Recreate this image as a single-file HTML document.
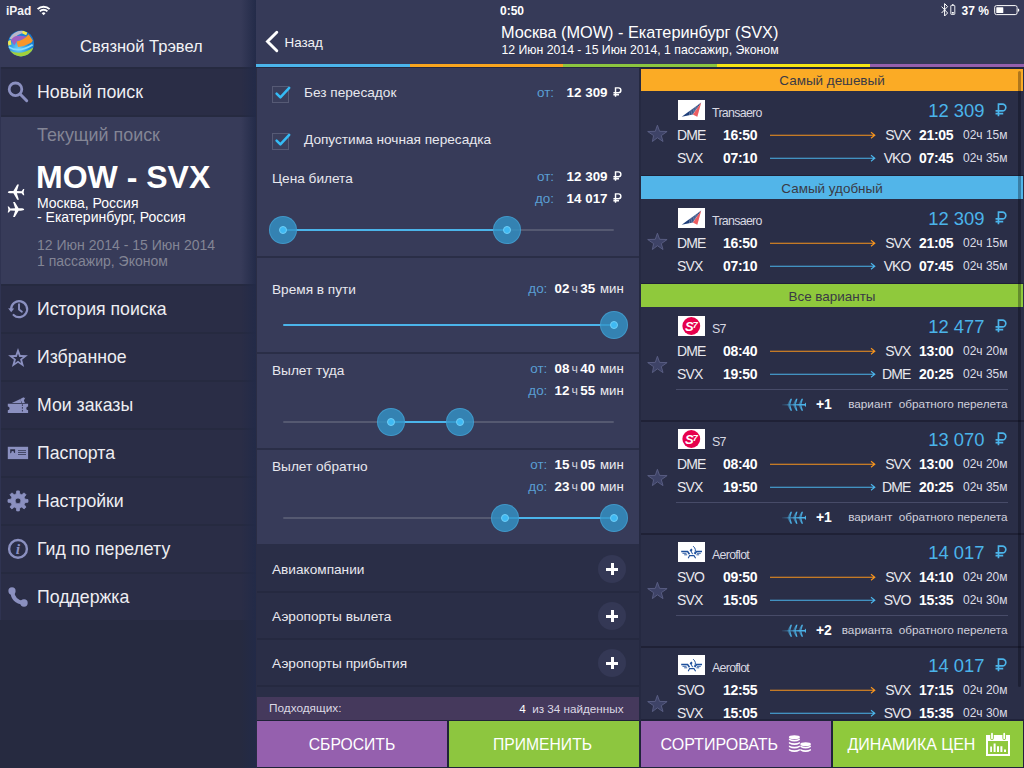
<!DOCTYPE html>
<html><head><meta charset="utf-8">
<style>
*{margin:0;padding:0;box-sizing:border-box}
html,body{width:1024px;height:768px;overflow:hidden;background:#363a58;font-family:"Liberation Sans",sans-serif;color:#fff}
.a{position:absolute}
.t{position:absolute;white-space:nowrap;line-height:20px;font-size:14px;color:#f2f2f5}
.b{font-weight:bold}
.r{text-align:right}
svg{position:absolute;overflow:visible}
/* sidebar */
#sb{left:0;top:0;width:256px;height:768px;background:#262a40;overflow:hidden}
#sb .row{position:absolute;left:0;width:256px;height:46px;background:#2a2d46}
#sb .m{font-size:17.7px;color:#eeeef2;left:37px}
/* mid */
#mid{left:256px;top:0;width:384px;height:768px;overflow:hidden;background:#2a2e47}
.sec{position:absolute;left:0;width:384px;background:#373b59}
.lbl{color:#e8e8ee;font-size:13.65px;margin-top:1px}
.ot{color:#5a9fd4;font-size:13.4px;margin-top:1px}
.val{font-weight:bold;font-size:13.4px;color:#fff;margin-top:1px}
.sm{font-size:12px;font-weight:normal;color:#e0e0e8}
.track{position:absolute;height:2px;background:#555971;border-radius:1px}
.act{position:absolute;height:2.4px;margin-top:.3px;background:#4bb4ea;border-radius:1px}
.th{position:absolute;width:28px;height:28px;border-radius:14px;background:rgba(51,146,198,.82);border:1px solid rgba(75,170,220,.55);margin:1px;z-index:3}
.th:after{content:"";position:absolute;left:8.8px;top:8.8px;width:6px;height:6px;border-radius:5px;background:#3fb9f3;border:1.2px solid #6fcdf6}
.plus{position:absolute;width:28px;height:28px;border-radius:14px;background:#343855}
.plus:before{content:"";position:absolute;left:8px;top:12.5px;width:12.4px;height:3px;background:#fff}
.plus:after{content:"";position:absolute;left:12.6px;top:7.8px;width:3px;height:12.4px;background:#fff}
.rub{position:static;display:inline-block;width:.65em;height:.72em;vertical-align:0;margin-left:2px}
.cb{position:absolute;width:17px;height:17px;border:1px solid #565a75;background:#3a3e5b}
.ch{font-weight:normal;font-size:12.4px;color:#d0d0dc;margin:0 2.4px 0 2px}
.mn{font-weight:normal;font-size:13.2px;color:#eeeef2;margin-left:4.8px}
.ot2{font-weight:normal;color:#5a9fd4;font-size:13.4px;margin-right:7.2px}
.al{font-size:12.4px;color:#d8d8e2;letter-spacing:-0.7px}
.pr{font-size:18.4px;color:#4bb4ea;line-height:24px}
.pr .rub{margin-left:5px;vertical-align:.6px}
.ap{font-size:14px;color:#e8e8ee;letter-spacing:-0.9px}
.tm{font-size:14px;font-weight:bold;color:#fff;letter-spacing:-0.3px}
.du{font-size:12px;color:#dcdce6}
.vr{font-size:11.75px;color:#d0d0dc}
/* right */
#rt{left:640px;top:0;width:384px;height:768px;overflow:hidden;background:#2a2e47}
.bar{position:absolute;left:1px;width:382px;height:24px;text-align:center;font-size:13.45px;line-height:24px;color:#3a3a45}
.card{position:absolute;left:0;width:384px}
.btn{position:absolute;top:721px;height:46px;font-size:16.6px;color:#fff;line-height:47px}
</style></head><body>
<!-- SIDEBAR -->
<div id="sb" class="a">
  <div class="a" style="left:0;top:0;width:256px;height:67px;background:#363a58"></div>
  <div class="row" style="top:68.5px;height:46.5px"></div>
  <div class="a" style="left:0;top:117px;width:256px;height:167px;background:#373b59"></div>
  <div class="a" style="left:0;top:67px;width:1px;height:553px;background:#2f3351;z-index:2"></div>
  <div class="row" style="top:286px"></div>
  <div class="row" style="top:334px"></div>
  <div class="row" style="top:382px"></div>
  <div class="row" style="top:430px"></div>
  <div class="row" style="top:478px"></div>
  <div class="row" style="top:526px"></div>
  <div class="row" style="top:574px"></div>

  <svg style="left:0;top:0" width="256" height="768" viewBox="0 0 256 768">
    <!-- wifi -->
    <g fill="none" stroke="#fff" stroke-width="1.9">
      <path d="M37.6,9.2 A8.4,8.4 0 0 1 49.6,9.2"/>
      <path d="M39.8,11.3 A5.4,5.4 0 0 1 47.4,11.3"/>
    </g>
    <path d="M41.7,13.2 A2.7,2.7 0 0 1 45.5,13.2 L43.6,15.2Z" fill="#fff"/>
    <!-- globe -->
    <defs>
      <radialGradient id="gl" cx="0.4" cy="0.7" r="0.7"><stop offset="0" stop-color="#6fd0f5"/><stop offset="0.6" stop-color="#1f8fe0"/><stop offset="1" stop-color="#1672c8"/></radialGradient>
      <clipPath id="gc"><circle cx="21" cy="43.4" r="13"/></clipPath>
    </defs>
    <circle cx="21" cy="43.4" r="13" fill="url(#gl)"/>
    <g clip-path="url(#gc)">
      <path d="M9.5,38.5 Q13,31.5 22,30.6 L25.5,32.8 Q17,33.5 12.5,40Z" fill="#b9b6c9"/>
      <path d="M22.6,30.4 L27.4,32.4 L26.2,35.2 L22.4,33.6Z" fill="#f4e84c"/>
      <path d="M11,40.2 Q13.5,35.6 20,35.8 L26.8,36.4 L23.5,39.6 Q18,40 16.6,41.8 L14.2,45.2Z" fill="#9f5fc3"/>
      <path d="M7.6,41.4 L10.6,39.8 L11.4,44.4 L8.4,45.8Z" fill="#f4e84c"/>
      <path d="M16.6,41.4 Q24,40.2 28.6,34.2 L32.8,40.4 Q31.8,42.4 30.6,43 Q25,46.4 18,46.9Z" fill="#f7962a"/>
      <path d="M8.6,47 Q19,53.2 32.6,44.8" fill="none" stroke="#86dcff" stroke-width="1.7"/>
      <path d="M9.6,50.6 Q20.5,56.2 32.8,47.8 L34,52 Q22,60.5 10,54.6Z" fill="#a2d03a"/>
    </g>
    <!-- search -->
    <circle cx="15.5" cy="89.3" r="6.3" fill="none" stroke="#8b90c0" stroke-width="2.8"/>
    <path d="M20.3,94.2 L26.7,100.7" stroke="#8b90c0" stroke-width="3" stroke-linecap="round"/>
    <!-- planes -->
    <path d="M8.2,0 C8.2,-0.75 6.5,-1.15 4.8,-1.15 L2.6,-1.15 L-1.2,-7.6 L-2.9,-7.6 L-0.9,-1.15 L-5.6,-0.95 L-7.2,-3.1 L-8.3,-3.1 L-7.6,0 L-8.3,3.1 L-7.2,3.1 L-5.6,0.95 L-0.9,1.15 L-2.9,7.6 L-1.2,7.6 L2.6,1.15 L4.8,1.15 C6.5,1.15 8.2,0.75 8.2,0Z" fill="#fff" transform="translate(16,192.2) scale(-1,1)"/>
    <path d="M8.2,0 C8.2,-0.75 6.5,-1.15 4.8,-1.15 L2.6,-1.15 L-1.2,-7.6 L-2.9,-7.6 L-0.9,-1.15 L-5.6,-0.95 L-7.2,-3.1 L-8.3,-3.1 L-7.6,0 L-8.3,3.1 L-7.2,3.1 L-5.6,0.95 L-0.9,1.15 L-2.9,7.6 L-1.2,7.6 L2.6,1.15 L4.8,1.15 C6.5,1.15 8.2,0.75 8.2,0Z" fill="#fff" transform="translate(16,209.5)"/>
    <!-- history -->
    <path d="M11.1,309.3 A8,8 0 1 1 13.6,315" fill="none" stroke="#8b90c0" stroke-width="2.2" stroke-linecap="round"/>
    <path d="M8.1,308.2 L14.2,308.6 L11.2,312.2Z" fill="#8b90c0"/>
    <path d="M19,304.3 L19,309.4 L21.9,311.7" fill="none" stroke="#8b90c0" stroke-width="1.9" stroke-linecap="round" stroke-linejoin="round"/>
    <!-- star -->
    <path d="M18.00,348.10 L20.53,355.02 L27.89,355.29 L22.09,359.83 L24.11,366.91 L18.00,362.80 L11.89,366.91 L13.91,359.83 L8.11,355.29 L15.47,355.02Z M18.00,353.50 L19.26,356.96 L22.95,357.09 L20.04,359.36 L21.06,362.91 L18.00,360.85 L14.94,362.91 L15.96,359.36 L13.05,357.09 L16.74,356.96Z" fill="#8b90c0" fill-rule="evenodd"/>
    <!-- ticket -->
    <path d="M7.8,403.8 H28.1 V406.6 A1.8,1.8 0 0 0 28.1,410.2 V413 H7.8 V410.2 A1.8,1.8 0 0 0 7.8,406.6Z" fill="#8b90c0"/>
    <path d="M22.4,404.3 V412.7" stroke="#2a2d46" stroke-width="0.9" stroke-dasharray="1.6,1.2"/>
    <path d="M11.8,402.9 L20.3,398.9 L21.4,402.9Z" fill="#8b90c0"/>
    <path d="M20.3,398.9 L23.5,397.2 A1.2,1.2 0 0 0 25.3,397.5 L23.9,400.4 L24.9,402.9 L21.6,402.9 A1,1 0 0 0 20.7,401.2Z" fill="#8b90c0"/>
    <!-- passport -->
    <rect x="7.8" y="446.8" width="20.3" height="12.3" fill="#8b90c0"/>
    <path d="M10.2,449.2 H15.1 V453.2 L13.8,452.6 V451.6 A1.3,1.3 0 0 0 11.5,451.6 V452.6 L10.2,453.4Z" fill="#2a2d46"/>
    <path d="M18,450.6 H26 M18,452.5 H26 M18,454.5 H26" stroke="#454968" stroke-width="1"/>
    <!-- gear -->
    <path d="M16.29,493.91 L16.69,490.89 L19.31,490.89 L19.71,493.91 L21.74,494.74 L24.16,492.89 L26.01,494.74 L24.16,497.16 L24.99,499.19 L28.01,499.59 L28.01,502.21 L24.99,502.61 L24.16,504.64 L26.01,507.06 L24.16,508.91 L21.74,507.06 L19.71,507.89 L19.31,510.91 L16.69,510.91 L16.29,507.89 L14.26,507.06 L11.84,508.91 L9.99,507.06 L11.84,504.64 L11.01,502.61 L7.99,502.21 L7.99,499.59 L11.01,499.19 L11.84,497.16 L9.99,494.74 L11.84,492.89 L14.26,494.74Z M15.10,500.90 a2.90,2.90 0 1,0 5.80,0 a2.90,2.90 0 1,0 -5.80,0Z" fill="#8b90c0" fill-rule="evenodd" stroke="#8b90c0" stroke-width="0.8" stroke-linejoin="round"/>
    <!-- info -->
    <circle cx="18" cy="548.9" r="8.9" fill="none" stroke="#8b90c0" stroke-width="2.4"/>
    <text x="18" y="553.9" font-family="Liberation Serif" font-style="italic" font-weight="bold" font-size="15.5" fill="#8b90c0" text-anchor="middle">i</text>
    <!-- phone -->
    <path d="M12.2,591 Q12.8,601.8 23.8,603" fill="none" stroke="#8b90c0" stroke-width="4" stroke-linecap="round"/>
    <circle cx="12" cy="590.9" r="3.6" fill="#8b90c0"/>
    <circle cx="24" cy="603" r="3.7" fill="#8b90c0"/>
  </svg>
  <span class="t b" style="left:6px;top:1px;font-size:12px">iPad</span>
  <span class="t" id="s_title" style="left:80px;top:36px;font-size:16.5px">Связной Трэвел</span>
  <span class="t m" id="s_new" style="top:82px;font-size:17.8px">Новый поиск</span>
  <span class="t m" id="s_cur" style="top:125px;color:#838595;font-size:17.9px">Текущий поиск</span>
  <span class="t b" id="s_mow" style="left:36px;top:160px;font-size:32px;line-height:34px;color:#fff">MOW - SVX</span>
  <span class="t" id="s_c1" style="left:37px;top:193px;font-size:14px;color:#fff">Москва, Россия</span>
  <span class="t" id="s_c2" style="left:37px;top:207px;font-size:14px;color:#fff">- Екатеринбург, Россия</span>
  <span class="t" id="s_d1" style="left:37px;top:235px;font-size:14px;color:#838595">12 Июн 2014 - 15 Июн 2014</span>
  <span class="t" id="s_d2" style="left:37px;top:251px;font-size:14px;color:#838595">1 пассажир, Эконом</span>
  <span class="t m" id="s_m1" style="top:299px">История поиска</span>
  <span class="t m" id="s_m2" style="top:347px">Избранное</span>
  <span class="t m" id="s_m3" style="top:395px">Мои заказы</span>
  <span class="t m" id="s_m4" style="top:443px">Паспорта</span>
  <span class="t m" id="s_m5" style="top:491px">Настройки</span>
  <span class="t m" id="s_m6" style="top:539px">Гид по перелету</span>
  <span class="t m" id="s_m7" style="top:587px">Поддержка</span>
  <div class="a" style="left:241px;top:0;width:15px;height:768px;background:linear-gradient(90deg,rgba(34,42,72,0),rgba(34,42,72,.95))"></div>
</div>
<!-- MIDDLE -->
<div id="mid" class="a">

  <div class="a" style="left:0;top:0;width:384px;height:64px;background:#363a58"></div>
  <svg style="left:0;top:0" width="384" height="64"><path d="M20.8,32.3 L11.5,41.5 L20.8,50.7" fill="none" stroke="#fff" stroke-width="2.9" stroke-linecap="round" stroke-linejoin="miter"/></svg>
  <span class="t" id="m_back" style="left:28.5px;top:33px;font-size:13.4px">Назад</span>
  <!-- sec1 -->
  <div class="sec" style="top:68px;height:188px"></div>
  <div class="sec" style="top:258px;height:94px"></div>
  <div class="sec" style="top:354px;height:94px"></div>
  <div class="sec" style="top:450px;height:94px"></div>
  <div class="cb" style="left:16px;top:86px"></div>
  <div class="cb" style="left:16px;top:133px"></div>
  <svg style="left:0;top:0" width="384" height="200"><g fill="none" stroke="#35bbf5" stroke-width="2.5" stroke-linecap="round" stroke-linejoin="round"><path d="M20.6,93.6 L24.4,97.4 L33.2,87.9"/><path d="M20.6,140.6 L24.4,144.4 L33.2,134.9"/></g></svg>
  <span class="t lbl" id="m_l1" style="left:48px;top:82px">Без пересадок</span>
  <span class="t lbl" id="m_l2" style="left:48px;top:129px">Допустима ночная пересадка</span>
  <span class="t lbl" id="m_l3" style="left:16px;top:168px">Цена билета</span>
  <span class="t ot" id="m_o1" style="left:281px;top:82px">от:</span>
  <span class="t val r" id="m_v1" style="right:18px;top:82px">12 309 <svg class="rub" viewBox="0 0 9 10"><path d="M2.6,10 V0.9 H5.6 A2.55,2.55 0 0 1 5.6,6 H0.4 M0.4,8 H6.2" fill="none" stroke="currentColor" stroke-width="1.5"/></svg></span>
  <span class="t ot" id="m_o2" style="left:281px;top:166px">от:</span>
  <span class="t val r" id="m_v2" style="right:18px;top:166px">12 309 <svg class="rub" viewBox="0 0 9 10"><path d="M2.6,10 V0.9 H5.6 A2.55,2.55 0 0 1 5.6,6 H0.4 M0.4,8 H6.2" fill="none" stroke="currentColor" stroke-width="1.5"/></svg></span>
  <span class="t ot" id="m_o3" style="left:279px;top:188px">до:</span>
  <span class="t val r" id="m_v3" style="right:18px;top:188px">14 017 <svg class="rub" viewBox="0 0 9 10"><path d="M2.6,10 V0.9 H5.6 A2.55,2.55 0 0 1 5.6,6 H0.4 M0.4,8 H6.2" fill="none" stroke="currentColor" stroke-width="1.5"/></svg></span>
  <div class="track" style="left:27px;top:229px;width:331px"></div>
  <div class="act" style="left:27px;top:228.5px;width:224px"></div>
  <div class="th" style="left:12px;top:215px"></div><div class="th" style="left:236px;top:215px"></div>
  <!-- sec2 -->
  <span class="t lbl" id="m_l4" style="left:16px;top:279px">Время в пути</span>
  <span class="t val r" id="m_v4" style="right:16.3px;top:278px"><span class="ot2">до:</span>02<span class="ch">ч</span>35<span class="mn">мин</span></span>
  <div class="act" style="left:27px;top:323.5px;width:331px"></div>
  <div class="th" style="left:343px;top:310px"></div>
  <!-- sec3 -->
  <span class="t lbl" id="m_l5" style="left:16px;top:360px">Вылет туда</span>
  <span class="t val r" id="m_v5" style="right:16.3px;top:358px"><span class="ot2">от:</span>08<span class="ch">ч</span>40<span class="mn">мин</span></span>
  <span class="t val r" id="m_v6" style="right:16.3px;top:380px"><span class="ot2">до:</span>12<span class="ch">ч</span>55<span class="mn">мин</span></span>
  <div class="track" style="left:27px;top:421px;width:331px"></div>
  <div class="act" style="left:135px;top:420.5px;width:69px"></div>
  <div class="th" style="left:120px;top:407px"></div><div class="th" style="left:189px;top:407px"></div>
  <!-- sec4 -->
  <span class="t lbl" id="m_l6" style="left:16px;top:456px">Вылет обратно</span>
  <span class="t val r" id="m_v7" style="right:16.3px;top:454px"><span class="ot2">от:</span>15<span class="ch">ч</span>05<span class="mn">мин</span></span>
  <span class="t val r" id="m_v8" style="right:16.3px;top:476px"><span class="ot2">до:</span>23<span class="ch">ч</span>00<span class="mn">мин</span></span>
  <div class="track" style="left:27px;top:517px;width:331px"></div>
  <div class="act" style="left:249px;top:516.5px;width:109px"></div>
  <div class="th" style="left:234px;top:503px"></div><div class="th" style="left:343px;top:503px"></div>
  <!-- rows -->
  <div class="a" style="left:0;top:591px;width:384px;height:2px;background:#252940"></div>
  <div class="a" style="left:0;top:638px;width:384px;height:2px;background:#252940"></div>
  <div class="a" style="left:0;top:685px;width:384px;height:2px;background:#252940"></div>
  <span class="t lbl" id="m_r1" style="left:16px;top:559px">Авиакомпании</span>
  <span class="t lbl" id="m_r2" style="left:16px;top:606px">Аэропорты вылета</span>
  <span class="t lbl" id="m_r3" style="left:16px;top:653px">Аэропорты прибытия</span>
  <div class="plus" style="left:342px;top:555px"></div>
  <div class="plus" style="left:342px;top:602px"></div>
  <div class="plus" style="left:342px;top:649px"></div>
  <!-- bottom -->
  <div class="a" style="left:0;top:697px;width:384px;height:23px;background:#45395c"></div><div class="a" style="left:0;top:720px;width:384px;height:48px;background:#1f2238"></div>
  <span class="t" id="m_p1" style="left:13px;top:698px;font-size:11.8px;color:#dcd8e4">Подходящих:</span>
  <span class="t r" id="m_p2" style="right:16.5px;top:699px;font-size:11.7px;color:#dcd8e4"><span style="color:#fff">4</span>&nbsp; из 34 найденных</span>
  <div class="btn" id="m_b1" style="font-size:15.7px;left:1px;width:190px;background:#9560ae;text-align:center"><span>СБРОСИТЬ</span></div>
  <div class="btn" id="m_b2" style="font-size:15.7px;left:193px;width:190px;background:#8dc63f;text-align:center"><span style="position:relative;left:-1.5px">ПРИМЕНИТЬ</span></div>
  <div class="a" style="left:0;top:68px;width:1px;height:700px;background:#2a2d45"></div>
  <div class="a" style="left:383px;top:68px;width:1px;height:700px;background:#262a40"></div>
</div>
<!-- RIGHT -->
<div id="rt" class="a">

  <div class="a" style="left:0;top:0;width:384px;height:64px;background:#363a58"></div>
  <div class="bar" style="top:69px;height:22px;line-height:24.5px;background:#fbab25"><span>Самый дешевый</span></div>
  <div class="bar" style="top:176px;height:23px;line-height:26px;background:#52b5e9"><span>Самый удобный</span></div>
  <div class="bar" style="top:284px;height:23px;line-height:26px;background:#8fc93c"><span>Все варианты</span></div>
<div class="card" style="top:91px;height:84px"><svg style="left:38px;top:9px" width="27" height="20" viewBox="0 0 27 20"><rect width="27" height="20" fill="#fff"/><path d="M3.7,16.7 L23.2,2.5 L14.9,14.5Z" fill="#1f3f7a"/><path d="M23.2,2.5 L14.9,14.5 L19.3,16.8Z" fill="#e83a3f"/><g stroke="#fff" stroke-width="0.55" opacity=".55"><path d="M12.5,9.2 L11.3,15.5 M14.4,7.8 L13,15.2 M16.3,6.5 L14.6,14.6 M18.2,5.2 L16,13 M20.1,4 L17.6,10.5"/></g><path d="M23.2,2.5 L14.9,14.5 L19.3,16.8Z" fill="#fff" opacity=".18"/></svg><span class="t al" style="left:72px;top:11.5px">Transaero</span><span class="t pr r" style="right:17.5px;top:8px">12 309 <svg class="rub" viewBox="0 0 9 10"><path d="M2.6,10 V0.9 H5.6 A2.55,2.55 0 0 1 5.6,6 H0.4 M0.4,8 H6.2" fill="none" stroke="currentColor" stroke-width="1.25"/></svg></span><svg style="left:0;top:0" width="384" height="84"><path d="M17.4,34.2 L19.6,40.3 L27.1,40.5 L21.3,44.6 L23.0,50.5 L17.4,46.7 L12.4,50.5 L13.6,44.6 L7.7,40.5 L15.3,40.3Z" fill="#3e4367" stroke="#5b6086" stroke-width="0.9" stroke-linejoin="miter"/><path d="M130,44.3 H234.5 M231,41.3 L234.8,44.3 L231,47.3" fill="none" stroke="#f7941d" stroke-width="1.1"/><path d="M130,67.3 H234.5 M231,64.3 L234.8,67.3 L231,70.3" fill="none" stroke="#4bb4ea" stroke-width="1.1"/></svg><span class="t ap" style="left:37px;top:33.8px">DME</span><span class="t tm" style="left:83px;top:33.8px">16:50</span><span class="t ap r" style="right:113.5px;top:33.8px">SVX</span><span class="t tm" style="left:279px;top:33.8px">21:05</span><span class="t du r" style="right:16.5px;top:33.8px">02ч 15м</span><span class="t ap" style="left:37px;top:56.599999999999994px">SVX</span><span class="t tm" style="left:83px;top:56.599999999999994px">07:10</span><span class="t ap r" style="right:113.5px;top:56.599999999999994px">VKO</span><span class="t tm" style="left:279px;top:56.599999999999994px">07:45</span><span class="t du r" style="right:16.5px;top:56.599999999999994px">02ч 35м</span></div><div class="card" style="top:199px;height:84px"><svg style="left:38px;top:9px" width="27" height="20" viewBox="0 0 27 20"><rect width="27" height="20" fill="#fff"/><path d="M3.7,16.7 L23.2,2.5 L14.9,14.5Z" fill="#1f3f7a"/><path d="M23.2,2.5 L14.9,14.5 L19.3,16.8Z" fill="#e83a3f"/><g stroke="#fff" stroke-width="0.55" opacity=".55"><path d="M12.5,9.2 L11.3,15.5 M14.4,7.8 L13,15.2 M16.3,6.5 L14.6,14.6 M18.2,5.2 L16,13 M20.1,4 L17.6,10.5"/></g><path d="M23.2,2.5 L14.9,14.5 L19.3,16.8Z" fill="#fff" opacity=".18"/></svg><span class="t al" style="left:72px;top:11.5px">Transaero</span><span class="t pr r" style="right:17.5px;top:8px">12 309 <svg class="rub" viewBox="0 0 9 10"><path d="M2.6,10 V0.9 H5.6 A2.55,2.55 0 0 1 5.6,6 H0.4 M0.4,8 H6.2" fill="none" stroke="currentColor" stroke-width="1.25"/></svg></span><svg style="left:0;top:0" width="384" height="84"><path d="M17.4,34.2 L19.6,40.3 L27.1,40.5 L21.3,44.6 L23.0,50.5 L17.4,46.7 L12.4,50.5 L13.6,44.6 L7.7,40.5 L15.3,40.3Z" fill="#3e4367" stroke="#5b6086" stroke-width="0.9" stroke-linejoin="miter"/><path d="M130,44.3 H234.5 M231,41.3 L234.8,44.3 L231,47.3" fill="none" stroke="#f7941d" stroke-width="1.1"/><path d="M130,67.3 H234.5 M231,64.3 L234.8,67.3 L231,70.3" fill="none" stroke="#4bb4ea" stroke-width="1.1"/></svg><span class="t ap" style="left:37px;top:33.8px">DME</span><span class="t tm" style="left:83px;top:33.8px">16:50</span><span class="t ap r" style="right:113.5px;top:33.8px">SVX</span><span class="t tm" style="left:279px;top:33.8px">21:05</span><span class="t du r" style="right:16.5px;top:33.8px">02ч 15м</span><span class="t ap" style="left:37px;top:56.599999999999994px">SVX</span><span class="t tm" style="left:83px;top:56.599999999999994px">07:10</span><span class="t ap r" style="right:113.5px;top:56.599999999999994px">VKO</span><span class="t tm" style="left:279px;top:56.599999999999994px">07:45</span><span class="t du r" style="right:16.5px;top:56.599999999999994px">02ч 35м</span></div><div class="card" style="top:307px;height:113px"><svg style="left:38px;top:9px" width="27" height="20" viewBox="0 0 27 20"><rect width="27" height="20" fill="#fff"/><circle cx="13.3" cy="10" r="8.9" fill="#e6004c"/><text x="12.9" y="14.7" font-family="Liberation Sans" font-weight="bold" font-style="italic" font-size="13" fill="#fff" text-anchor="middle" letter-spacing="-0.9">S<tspan font-size="9" dy="-2.6">7</tspan></text></svg><span class="t al" style="left:72px;top:11.5px">S7</span><span class="t pr r" style="right:17.5px;top:8px">12 477 <svg class="rub" viewBox="0 0 9 10"><path d="M2.6,10 V0.9 H5.6 A2.55,2.55 0 0 1 5.6,6 H0.4 M0.4,8 H6.2" fill="none" stroke="currentColor" stroke-width="1.25"/></svg></span><svg style="left:0;top:0" width="384" height="113"><path d="M17.4,49.3 L19.6,55.4 L27.1,55.6 L21.3,59.7 L23.0,65.6 L17.4,61.8 L12.4,65.6 L13.6,59.7 L7.7,55.6 L15.3,55.4Z" fill="#3e4367" stroke="#5b6086" stroke-width="0.9" stroke-linejoin="miter"/><path d="M130,44.3 H234.5 M231,41.3 L234.8,44.3 L231,47.3" fill="none" stroke="#f7941d" stroke-width="1.1"/><path d="M130,67.3 H234.5 M231,64.3 L234.8,67.3 L231,70.3" fill="none" stroke="#4bb4ea" stroke-width="1.1"/><path d="M36,82.5 H368" stroke="#474b68" stroke-width="1"/><defs><linearGradient id="pg" x1="0" x2="1"><stop offset="0" stop-color="#4bb4ea" stop-opacity=".08"/><stop offset=".8" stop-color="#4bb4ea" stop-opacity="1"/></linearGradient></defs><g fill="url(#pg)" transform="translate(142,97.8)"><path d="M0,-0.7 H22.5 L24,-2.2 V2.2 L22.5,0.7 H0Z"/><path d="M5,0 L8.6,-6 H10 L8.2,0 L10,6 H8.6Z"/><path d="M10.5,0 L14.1,-6 H15.5 L13.7,0 L15.5,6 H14.1Z"/><path d="M16,0 L19.6,-6 H21 L19.2,0 L21,6 H19.6Z"/></g></svg><span class="t ap" style="left:37px;top:33.8px">DME</span><span class="t tm" style="left:83px;top:33.8px">08:40</span><span class="t ap r" style="right:113.5px;top:33.8px">SVX</span><span class="t tm" style="left:279px;top:33.8px">13:00</span><span class="t du r" style="right:16.5px;top:33.8px">02ч 20м</span><span class="t ap" style="left:37px;top:56.599999999999994px">SVX</span><span class="t tm" style="left:83px;top:56.599999999999994px">19:50</span><span class="t ap r" style="right:113.5px;top:56.599999999999994px">DME</span><span class="t tm" style="left:279px;top:56.599999999999994px">20:25</span><span class="t du r" style="right:16.5px;top:56.599999999999994px">02ч 35м</span><span class="t tm" style="left:176px;top:86.5px;font-size:14px">+1</span><span class="t vr r" style="right:16.5px;top:86.5px">вариант&nbsp; обратного перелета</span></div><div class="card" style="top:420px;height:113px"><svg style="left:38px;top:9px" width="27" height="20" viewBox="0 0 27 20"><rect width="27" height="20" fill="#fff"/><circle cx="13.3" cy="10" r="8.9" fill="#e6004c"/><text x="12.9" y="14.7" font-family="Liberation Sans" font-weight="bold" font-style="italic" font-size="13" fill="#fff" text-anchor="middle" letter-spacing="-0.9">S<tspan font-size="9" dy="-2.6">7</tspan></text></svg><span class="t al" style="left:72px;top:11.5px">S7</span><span class="t pr r" style="right:17.5px;top:8px">13 070 <svg class="rub" viewBox="0 0 9 10"><path d="M2.6,10 V0.9 H5.6 A2.55,2.55 0 0 1 5.6,6 H0.4 M0.4,8 H6.2" fill="none" stroke="currentColor" stroke-width="1.25"/></svg></span><svg style="left:0;top:0" width="384" height="113"><path d="M17.4,49.3 L19.6,55.4 L27.1,55.6 L21.3,59.7 L23.0,65.6 L17.4,61.8 L12.4,65.6 L13.6,59.7 L7.7,55.6 L15.3,55.4Z" fill="#3e4367" stroke="#5b6086" stroke-width="0.9" stroke-linejoin="miter"/><path d="M130,44.3 H234.5 M231,41.3 L234.8,44.3 L231,47.3" fill="none" stroke="#f7941d" stroke-width="1.1"/><path d="M130,67.3 H234.5 M231,64.3 L234.8,67.3 L231,70.3" fill="none" stroke="#4bb4ea" stroke-width="1.1"/><path d="M36,82.5 H368" stroke="#474b68" stroke-width="1"/><defs><linearGradient id="pg" x1="0" x2="1"><stop offset="0" stop-color="#4bb4ea" stop-opacity=".08"/><stop offset=".8" stop-color="#4bb4ea" stop-opacity="1"/></linearGradient></defs><g fill="url(#pg)" transform="translate(142,97.8)"><path d="M0,-0.7 H22.5 L24,-2.2 V2.2 L22.5,0.7 H0Z"/><path d="M5,0 L8.6,-6 H10 L8.2,0 L10,6 H8.6Z"/><path d="M10.5,0 L14.1,-6 H15.5 L13.7,0 L15.5,6 H14.1Z"/><path d="M16,0 L19.6,-6 H21 L19.2,0 L21,6 H19.6Z"/></g></svg><span class="t ap" style="left:37px;top:33.8px">DME</span><span class="t tm" style="left:83px;top:33.8px">08:40</span><span class="t ap r" style="right:113.5px;top:33.8px">SVX</span><span class="t tm" style="left:279px;top:33.8px">13:00</span><span class="t du r" style="right:16.5px;top:33.8px">02ч 20м</span><span class="t ap" style="left:37px;top:56.599999999999994px">SVX</span><span class="t tm" style="left:83px;top:56.599999999999994px">19:50</span><span class="t ap r" style="right:113.5px;top:56.599999999999994px">DME</span><span class="t tm" style="left:279px;top:56.599999999999994px">20:25</span><span class="t du r" style="right:16.5px;top:56.599999999999994px">02ч 35м</span><span class="t tm" style="left:176px;top:86.5px;font-size:14px">+1</span><span class="t vr r" style="right:16.5px;top:86.5px">вариант&nbsp; обратного перелета</span></div><div class="card" style="top:533px;height:113px"><svg style="left:38px;top:9px" width="27" height="20" viewBox="0 0 27 20"><rect width="27" height="20" fill="#fff"/><g fill="none" stroke="#1d4f9c"><path d="M3.2,9.6 H9.6 L11.5,12.2" stroke-width="1.5"/><path d="M4.5,11.3 H8.5 M6.2,12.8 H9.2" stroke-width="0.9"/><path d="M24,9.6 H18.5 L16.8,12.2" stroke-width="1.5"/><path d="M22.8,11.3 H19 M21.2,12.8 H18.4" stroke-width="0.9"/><path d="M15.2,4.2 Q19,7.5 16.3,11.6" stroke-width="1"/><path d="M10.2,16.3 L11.6,13.6 H16 L17.6,16.2" stroke-width="1.1"/><path d="M12.6,8.2 L14.6,12.2" stroke-width="1"/></g><path d="M11.6,8.2 L13.4,6.6 L14.6,8 L13,9.8Z" fill="#1d4f9c"/></svg><span class="t al" style="left:72px;top:11.5px">Aeroflot</span><span class="t pr r" style="right:17.5px;top:8px">14 017 <svg class="rub" viewBox="0 0 9 10"><path d="M2.6,10 V0.9 H5.6 A2.55,2.55 0 0 1 5.6,6 H0.4 M0.4,8 H6.2" fill="none" stroke="currentColor" stroke-width="1.25"/></svg></span><svg style="left:0;top:0" width="384" height="113"><path d="M17.4,49.3 L19.6,55.4 L27.1,55.6 L21.3,59.7 L23.0,65.6 L17.4,61.8 L12.4,65.6 L13.6,59.7 L7.7,55.6 L15.3,55.4Z" fill="#3e4367" stroke="#5b6086" stroke-width="0.9" stroke-linejoin="miter"/><path d="M130,44.3 H234.5 M231,41.3 L234.8,44.3 L231,47.3" fill="none" stroke="#f7941d" stroke-width="1.1"/><path d="M130,67.3 H234.5 M231,64.3 L234.8,67.3 L231,70.3" fill="none" stroke="#4bb4ea" stroke-width="1.1"/><path d="M36,82.5 H368" stroke="#474b68" stroke-width="1"/><defs><linearGradient id="pg" x1="0" x2="1"><stop offset="0" stop-color="#4bb4ea" stop-opacity=".08"/><stop offset=".8" stop-color="#4bb4ea" stop-opacity="1"/></linearGradient></defs><g fill="url(#pg)" transform="translate(142,97.8)"><path d="M0,-0.7 H22.5 L24,-2.2 V2.2 L22.5,0.7 H0Z"/><path d="M5,0 L8.6,-6 H10 L8.2,0 L10,6 H8.6Z"/><path d="M10.5,0 L14.1,-6 H15.5 L13.7,0 L15.5,6 H14.1Z"/><path d="M16,0 L19.6,-6 H21 L19.2,0 L21,6 H19.6Z"/></g></svg><span class="t ap" style="left:37px;top:33.8px">SVO</span><span class="t tm" style="left:83px;top:33.8px">09:50</span><span class="t ap r" style="right:113.5px;top:33.8px">SVX</span><span class="t tm" style="left:279px;top:33.8px">14:10</span><span class="t du r" style="right:16.5px;top:33.8px">02ч 20м</span><span class="t ap" style="left:37px;top:56.599999999999994px">SVX</span><span class="t tm" style="left:83px;top:56.599999999999994px">15:05</span><span class="t ap r" style="right:113.5px;top:56.599999999999994px">SVO</span><span class="t tm" style="left:279px;top:56.599999999999994px">15:35</span><span class="t du r" style="right:16.5px;top:56.599999999999994px">02ч 30м</span><span class="t tm" style="left:176px;top:86.5px;font-size:14px">+2</span><span class="t vr r" style="right:16.5px;top:86.5px">варианта&nbsp; обратного перелета</span></div><div class="card" style="top:646px;height:113px"><svg style="left:38px;top:9px" width="27" height="20" viewBox="0 0 27 20"><rect width="27" height="20" fill="#fff"/><g fill="none" stroke="#1d4f9c"><path d="M3.2,9.6 H9.6 L11.5,12.2" stroke-width="1.5"/><path d="M4.5,11.3 H8.5 M6.2,12.8 H9.2" stroke-width="0.9"/><path d="M24,9.6 H18.5 L16.8,12.2" stroke-width="1.5"/><path d="M22.8,11.3 H19 M21.2,12.8 H18.4" stroke-width="0.9"/><path d="M15.2,4.2 Q19,7.5 16.3,11.6" stroke-width="1"/><path d="M10.2,16.3 L11.6,13.6 H16 L17.6,16.2" stroke-width="1.1"/><path d="M12.6,8.2 L14.6,12.2" stroke-width="1"/></g><path d="M11.6,8.2 L13.4,6.6 L14.6,8 L13,9.8Z" fill="#1d4f9c"/></svg><span class="t al" style="left:72px;top:11.5px">Aeroflot</span><span class="t pr r" style="right:17.5px;top:8px">14 017 <svg class="rub" viewBox="0 0 9 10"><path d="M2.6,10 V0.9 H5.6 A2.55,2.55 0 0 1 5.6,6 H0.4 M0.4,8 H6.2" fill="none" stroke="currentColor" stroke-width="1.25"/></svg></span><svg style="left:0;top:0" width="384" height="113"><path d="M17.4,49.3 L19.6,55.4 L27.1,55.6 L21.3,59.7 L23.0,65.6 L17.4,61.8 L12.4,65.6 L13.6,59.7 L7.7,55.6 L15.3,55.4Z" fill="#3e4367" stroke="#5b6086" stroke-width="0.9" stroke-linejoin="miter"/><path d="M130,44.3 H234.5 M231,41.3 L234.8,44.3 L231,47.3" fill="none" stroke="#f7941d" stroke-width="1.1"/><path d="M130,67.3 H234.5 M231,64.3 L234.8,67.3 L231,70.3" fill="none" stroke="#4bb4ea" stroke-width="1.1"/><path d="M36,82.5 H368" stroke="#474b68" stroke-width="1"/><defs><linearGradient id="pg" x1="0" x2="1"><stop offset="0" stop-color="#4bb4ea" stop-opacity=".08"/><stop offset=".8" stop-color="#4bb4ea" stop-opacity="1"/></linearGradient></defs><g fill="url(#pg)" transform="translate(142,97.8)"><path d="M0,-0.7 H22.5 L24,-2.2 V2.2 L22.5,0.7 H0Z"/><path d="M5,0 L8.6,-6 H10 L8.2,0 L10,6 H8.6Z"/><path d="M10.5,0 L14.1,-6 H15.5 L13.7,0 L15.5,6 H14.1Z"/><path d="M16,0 L19.6,-6 H21 L19.2,0 L21,6 H19.6Z"/></g></svg><span class="t ap" style="left:37px;top:33.8px">SVO</span><span class="t tm" style="left:83px;top:33.8px">12:55</span><span class="t ap r" style="right:113.5px;top:33.8px">SVX</span><span class="t tm" style="left:279px;top:33.8px">17:15</span><span class="t du r" style="right:16.5px;top:33.8px">02ч 20м</span><span class="t ap" style="left:37px;top:56.599999999999994px">SVX</span><span class="t tm" style="left:83px;top:56.599999999999994px">15:05</span><span class="t ap r" style="right:113.5px;top:56.599999999999994px">SVO</span><span class="t tm" style="left:279px;top:56.599999999999994px">15:35</span><span class="t du r" style="right:16.5px;top:56.599999999999994px">02ч 30м</span><span class="t tm" style="left:176px;top:86.5px;font-size:14px">+2</span><span class="t vr r" style="right:16.5px;top:86.5px">варианта&nbsp; обратного перелета</span></div><div class="a" style="left:0;top:174.5px;width:384px;height:1.5px;background:#1f2136"></div><div class="a" style="left:0;top:282.5px;width:384px;height:1.5px;background:#1f2136"></div><div class="a" style="left:1px;top:420px;width:383px;height:2px;background:#1f2136"></div><div class="a" style="left:1px;top:533px;width:383px;height:2px;background:#1f2136"></div><div class="a" style="left:1px;top:646px;width:383px;height:2px;background:#1f2136"></div>
  <div class="a" style="left:378px;top:71px;width:3px;height:615.5px;background:rgba(0,0,10,.3);border-radius:1.5px"></div>
  <div class="a" style="left:0;top:719px;width:384px;height:49px;background:#20233a"></div>
  <div class="btn" id="r_b1" style="font-size:16px;left:1px;width:190px;background:#9560ae"><span style="position:absolute;left:19.5px">СОРТИРОВАТЬ</span></div>
  <div class="btn" id="r_b2" style="font-size:16px;left:193px;width:190px;background:#8fc93c"><span style="position:absolute;left:14.5px">ДИНАМИКА ЦЕН</span></div>
  <svg style="left:0;top:0" width="384" height="768"><g fill="#fff" transform="translate(0,0.9)">
<path d="M148.9,748.0 Q154.4,750.8000000000001 159.9,748.0 V749.6 Q154.4,752.6 148.9,749.6Z"/><path d="M148.9,744.5 Q154.4,747.3000000000001 159.9,744.5 V746.1 Q154.4,749.1 148.9,746.1Z"/><path d="M148.9,741.0 Q154.4,743.8000000000001 159.9,741.0 V742.6 Q154.4,745.6 148.9,742.6Z"/><path d="M148.9,737.5 Q154.4,740.3000000000001 159.9,737.5 V739.1 Q154.4,742.1 148.9,739.1Z"/><ellipse cx="154.4" cy="736.3000000000001" rx="5.5" ry="1.9"/><path d="M160.29999999999998,748.0 Q165.6,750.8000000000001 170.9,748.0 V749.6 Q165.6,752.6 160.29999999999998,749.6Z"/><path d="M160.29999999999998,744.5 Q165.6,747.3000000000001 170.9,744.5 V746.1 Q165.6,749.1 160.29999999999998,746.1Z"/><ellipse cx="165.6" cy="743.3000000000001" rx="5.3" ry="1.9"/></g>
  <path d="M346,735 H370 V756 H346Z M348,741 V754 H368 V741Z" fill="#fff" fill-rule="evenodd"/>
  <path d="M352,735.4 V738.2 M364.2,735.4 V738.2" stroke="#8fc93c" stroke-width="3.6" stroke-linecap="round"/>
  <path d="M352,733.7 V738.2 M364.2,733.7 V738.2" stroke="#fff" stroke-width="1.8" stroke-linecap="round"/>
  <path d="M350.2,752 V746.6 H352 V752Z M353.6,752 V743.4 H355.6 V752Z M357,752 V746.2 H359 V752Z M360.4,752 V746.2 H362.4 V752Z M364,752 V749.6 H366 V752Z" fill="#fff"/>
  </svg>
</div>
<div class="a" style="left:639px;top:69px;width:2px;height:652px;background:#252941"></div>
<!-- stripe -->
<div class="a" style="left:256px;top:64px;width:768px;height:3px;background:linear-gradient(90deg,#4bb4ea 0,#4bb4ea 20%,#f9a51e 20%,#f9a51e 40%,#8cc63f 40%,#8cc63f 60%,#f5e614 60%,#f5e614 80%,#9560ae 80%)"></div>
<div class="a" style="left:256px;top:67px;width:384px;height:1px;background:#252840"></div><div class="a" style="left:640px;top:67px;width:384px;height:2px;background:#22253d"></div>

<span class="t b" style="left:500px;top:1px;font-size:12px;color:#fff">0:50</span>
<span class="t" id="h_t1" style="left:501px;top:22px;font-size:16.3px;color:#fff">Москва (MOW) - Екатеринбург (SVX)</span>
<span class="t" id="h_t2" style="left:501.5px;top:39.5px;font-size:12.25px;color:#fff">12 Июн 2014 - 15 Июн 2014, 1 пассажир, Эконом</span>
<span class="t b" id="h_pc" style="left:961.5px;top:1px;font-size:12px;color:#fff">37 %</span>
<svg style="left:0;top:0" width="1024" height="24"><g fill="none" stroke="#fff">
<path d="M941.6,6.6 L947.6,13 L944.6,16 V3.6 L947.6,6.6 L941.6,13" stroke-width="1"/>
<rect x="950.8" y="5.4" width="4" height="9" stroke-width="0.9" rx="0.5"/>
<rect x="994.7" y="5.6" width="22.4" height="9" rx="1.8" stroke-width="1"/>
</g><rect x="952" y="4.2" width="1.6" height="1" fill="#fff"/><rect x="951.8" y="12" width="2" height="1.6" fill="#fff"/>
<rect x="996.3" y="7.2" width="7" height="5.8" rx="0.6" fill="#fff"/><path d="M1018,8.4 Q1019.3,8.6 1019.3,10.1 Q1019.3,11.6 1018,11.8Z" fill="#fff"/></svg>
</body></html>
